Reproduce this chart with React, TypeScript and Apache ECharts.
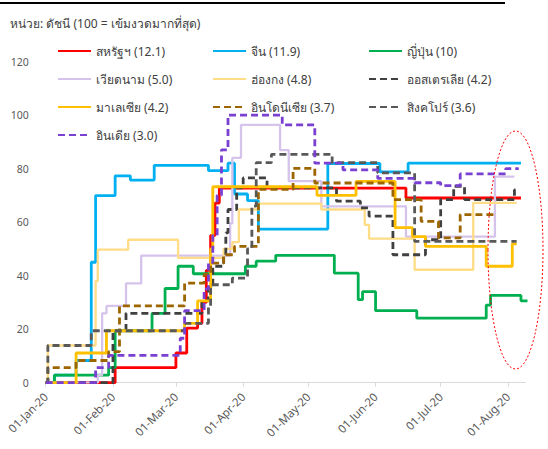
import React, { useEffect, useRef } from "react";
import * as echarts from "echarts";

// ---------- data (change points: [date, index value]) ----------
const monthTicks = ["2020-01-01", "2020-02-01", "2020-03-01", "2020-04-01", "2020-05-01", "2020-06-01", "2020-07-01", "2020-08-01"];
const monthLabels = ["01-Jan-20", "01-Feb-20", "01-Mar-20", "01-Apr-20", "01-May-20", "01-Jun-20", "01-Jul-20", "01-Aug-20"];
const yTicks = [0, 20, 40, 60, 80, 100, 120];

const names = [
  "สหรัฐฯ (12.1)", "จีน (11.9)", "ญี่ปุ่น (10)",
  "เวียดนาม (5.0)", "ฮ่องกง (4.8)", "ออสเตรเลีย (4.2)",
  "มาเลเซีย (4.2)", "อินโดนีเซีย (3.7)", "สิงคโปร์ (3.6)",
  "อินเดีย (3.0)",
];

const usa: [string, number][] = [
  ["2020-01-01", 0], ["2020-02-02", 5.6], ["2020-03-01", 11.1], ["2020-03-06", 20.4], ["2020-03-11", 22.2],
  ["2020-03-13", 30], ["2020-03-15", 42], ["2020-03-17", 55], ["2020-03-19", 67.1], ["2020-03-21", 72.7],
  ["2020-06-15", 69], ["2020-08-07", 69],
];
const china: [string, number][] = [
  ["2020-01-01", 0], ["2020-01-05", 2.8], ["2020-01-15", 8.3], ["2020-01-22", 45], ["2020-01-24", 69.9],
  ["2020-02-02", 77.3], ["2020-02-09", 75.7], ["2020-02-20", 81.2], ["2020-03-16", 79.2], ["2020-03-25", 82],
  ["2020-03-28", 70.5], ["2020-04-03", 68], ["2020-04-08", 57.4], ["2020-05-10", 81.9], ["2020-06-03", 78.8],
  ["2020-06-16", 82], ["2020-08-07", 82],
];
const japan: [string, number][] = [
  ["2020-01-01", 0], ["2020-01-05", 2.8], ["2020-01-30", 5.6], ["2020-02-02", 19.4], ["2020-02-19", 25.9],
  ["2020-02-25", 35.2], ["2020-03-02", 43.5], ["2020-03-09", 40.7], ["2020-04-02", 43.5], ["2020-04-07", 45.4],
  ["2020-04-16", 47.6], ["2020-05-13", 40.9], ["2020-05-24", 31], ["2020-05-26", 34], ["2020-06-01", 26.9],
  ["2020-06-20", 24.1], ["2020-07-22", 29], ["2020-07-24", 32.6], ["2020-08-07", 30.6], ["2020-08-10", 30.6],
];
const vietnam: [string, number][] = [
  ["2020-01-01", 0], ["2020-01-25", 2.8], ["2020-01-27", 25.9], ["2020-01-29", 28.7], ["2020-02-07", 37.1],
  ["2020-02-14", 47.5], ["2020-03-26", 59.5], ["2020-03-27", 84], ["2020-03-31", 96.3], ["2020-04-18", 86.9],
  ["2020-04-22", 75.3], ["2020-05-07", 65.9], ["2020-06-15", 54.6], ["2020-07-26", 77], ["2020-08-04", 77],
];
const hongkong: [string, number][] = [
  ["2020-01-01", 0], ["2020-01-02", 13.9], ["2020-01-24", 38], ["2020-01-25", 49.7], ["2020-02-08", 53.4],
  ["2020-03-02", 46.6], ["2020-03-23", 50], ["2020-03-27", 52.5], ["2020-03-30", 64.7], ["2020-04-08", 66.9],
  ["2020-05-07", 64.7], ["2020-05-27", 59], ["2020-05-29", 53.8], ["2020-06-19", 42.2], ["2020-07-16", 67.2],
  ["2020-08-05", 67.2],
];
const australia: [string, number][] = [
  ["2020-01-01", 0], ["2020-02-01", 19.4], ["2020-02-07", 25.9], ["2020-03-13", 30.6], ["2020-03-16", 36.6],
  ["2020-03-18", 43.5], ["2020-03-23", 47.8], ["2020-03-24", 56], ["2020-03-25", 64.7], ["2020-03-29", 72.8],
  ["2020-04-01", 76.5], ["2020-04-12", 72.8], ["2020-05-14", 67.8], ["2020-05-25", 65.3], ["2020-05-29", 62.2],
  ["2020-06-09", 47.8], ["2020-06-24", 53.4], ["2020-07-01", 68.4], ["2020-07-07", 73.4], ["2020-07-12", 68.4],
  ["2020-08-04", 72], ["2020-08-06", 72],
];
const malaysia: [string, number][] = [
  ["2020-01-01", 0], ["2020-01-15", 11.1], ["2020-01-29", 19.4], ["2020-03-05", 22.2], ["2020-03-11", 30.6],
  ["2020-03-17", 50], ["2020-03-18", 73.2], ["2020-05-05", 70], ["2020-05-23", 75.2], ["2020-06-10", 57.9],
  ["2020-06-18", 54.6], ["2020-06-24", 50.9], ["2020-07-22", 43.5], ["2020-08-03", 51.9], ["2020-08-05", 51.9],
];
const indonesia: [string, number][] = [
  ["2020-01-01", 0], ["2020-01-02", 5.6], ["2020-01-15", 8.3], ["2020-01-30", 11.6], ["2020-02-04", 28.7],
  ["2020-03-05", 37.2], ["2020-03-14", 40.5], ["2020-03-17", 44.7], ["2020-03-23", 47.8], ["2020-03-28", 50.9],
  ["2020-04-08", 72.2], ["2020-04-24", 80.1], ["2020-05-04", 74.6], ["2020-06-09", 68.4], ["2020-06-22", 60.3],
  ["2020-06-30", 54.1], ["2020-07-10", 62.8], ["2020-07-26", 62.8],
];
const singapore: [string, number][] = [
  ["2020-01-01", 0], ["2020-01-02", 13.9], ["2020-01-22", 19.4], ["2020-03-05", 22.2], ["2020-03-16", 28.5],
  ["2020-03-17", 36.6], ["2020-03-27", 39.1], ["2020-04-03", 50], ["2020-04-05", 66], ["2020-04-07", 82.2],
  ["2020-04-14", 85.3], ["2020-05-12", 82.2], ["2020-06-02", 78.4], ["2020-06-19", 52.8], ["2020-08-05", 52.8],
];
const india: [string, number][] = [
  ["2020-01-01", 0], ["2020-01-24", 5.6], ["2020-01-30", 10.2], ["2020-03-03", 16.6], ["2020-03-05", 26.9],
  ["2020-03-14", 35], ["2020-03-16", 45], ["2020-03-18", 55], ["2020-03-20", 70], ["2020-03-22", 87],
  ["2020-03-25", 100], ["2020-04-19", 96.3], ["2020-05-04", 82], ["2020-05-17", 79.5], ["2020-06-02", 76.3],
  ["2020-06-19", 74.7], ["2020-07-01", 73.6], ["2020-07-10", 78], ["2020-07-31", 80], ["2020-08-06", 80],
];

const seriesData = [usa, china, japan, vietnam, hongkong, australia, malaysia, indonesia, singapore, india];

// ---------- styles ----------
const styles = [
  { color: "#FF0000", width: 2.8, dashed: false },
  { color: "#00B0F0", width: 2.8, dashed: false },
  { color: "#00B050", width: 2.8, dashed: false },
  { color: "#D5C3EC", width: 2.3, dashed: false },
  { color: "#FFDC85", width: 2.3, dashed: false },
  { color: "#404040", width: 2.8, dashed: true },
  { color: "#FFC000", width: 2.8, dashed: false },
  { color: "#9C6500", width: 2.8, dashed: true },
  { color: "#595959", width: 2.8, dashed: true },
  { color: "#7A40D2", width: 2.8, dashed: true },
];

const dayOf = (s: string) => {
  const [y, m, d] = s.split("-").map(Number);
  return (Date.UTC(y, m - 1, d) - Date.UTC(2020, 0, 1)) / 86400000;
};

const FONT = "Tahoma, 'Noto Sans', 'DejaVu Sans', sans-serif";

export default function App() {
  const ref = useRef<HTMLDivElement>(null);
  useEffect(() => {
    if (!ref.current) return;
    const chart = echarts.init(ref.current, undefined, { renderer: "svg" });
    const tickDays = monthTicks.map(dayOf);
    const legendCols = [[0, 3, 6, 9], [1, 4, 7], [2, 5, 8]];
    const legendLeft = [57, 212, 368];
    chart.setOption({
      animation: false,
      textStyle: { fontFamily: FONT },
      grid: { left: 45.7, right: 22.7, top: 61.5, bottom: 66.3 },
      xAxis: {
        type: "value",
        min: 0,
        max: 221,
        axisLine: { show: true, lineStyle: { color: "#D9D9D9", width: 1 } },
        axisTick: { show: true, length: 4, lineStyle: { color: "#D9D9D9" }, customValues: tickDays },
        splitLine: { show: false },
        axisLabel: {
          customValues: tickDays,
          rotate: 45,
          margin: 12,
          fontSize: 11.5,
          color: "#595959",
          fontFamily: FONT,
          formatter: (v: number) => {
            const i = tickDays.indexOf(v);
            return i >= 0 ? monthLabels[i] : "";
          },
        },
      },
      yAxis: {
        type: "value",
        min: yTicks[0],
        max: yTicks[yTicks.length - 1],
        interval: 20,
        axisLine: { show: false },
        axisTick: { show: false },
        splitLine: { show: false },
        axisLabel: { margin: 17, fontSize: 10.5, color: "#595959", fontFamily: FONT },
      },
      legend: legendCols.map((col, ci) => ({
        orient: "vertical",
        left: legendLeft[ci],
        top: 44,
        itemWidth: 33,
        itemHeight: 14,
        itemGap: 14,
        padding: 0,
        selectedMode: false,
        itemStyle: { color: "rgba(0,0,0,0)", borderColor: "rgba(0,0,0,0)", borderWidth: 0, opacity: 0 },
        textStyle: { fontSize: 12, color: "#404040", fontFamily: FONT, lineHeight: 14, padding: [0, 0, 0, 0] },
        data: col.map((i) => names[i]),
      })),
      series: seriesData.map((pts, i) => ({
        name: names[i],
        type: "line",
        step: "end",
        symbol: "none",
        data: pts.map(([d, v]) => [dayOf(d), v]),
        lineStyle: {
          color: styles[i].color,
          width: styles[i].width,
          type: styles[i].dashed ? [7, 4] : "solid",
        },
        itemStyle: { color: styles[i].color },
        z: 2 + i,
      })),
      graphic: [
        { type: "line", shape: { x1: 0, y1: 3, x2: 505, y2: 3 }, style: { stroke: "#000", lineWidth: 2 } },
        {
          type: "text",
          left: 10,
          top: 17,
          style: { text: "หน่วย: ดัชนี (100 = เข้มงวดมากที่สุด)", fontSize: 12, fill: "#404040", fontFamily: FONT },
        },
        {
          type: "ellipse",
          shape: { cx: 515.5, cy: 250, rx: 27.5, ry: 119 },
          style: { fill: "none", stroke: "#FF0000", lineWidth: 1, lineDash: [2, 2] },
          z: 100,
        },
      ],
    });
    return () => chart.dispose();
  }, []);
  return <div ref={ref} style={{ position: "fixed", left: 0, top: 0, width: 548, height: 449, background: "#fff" }} />;
}
